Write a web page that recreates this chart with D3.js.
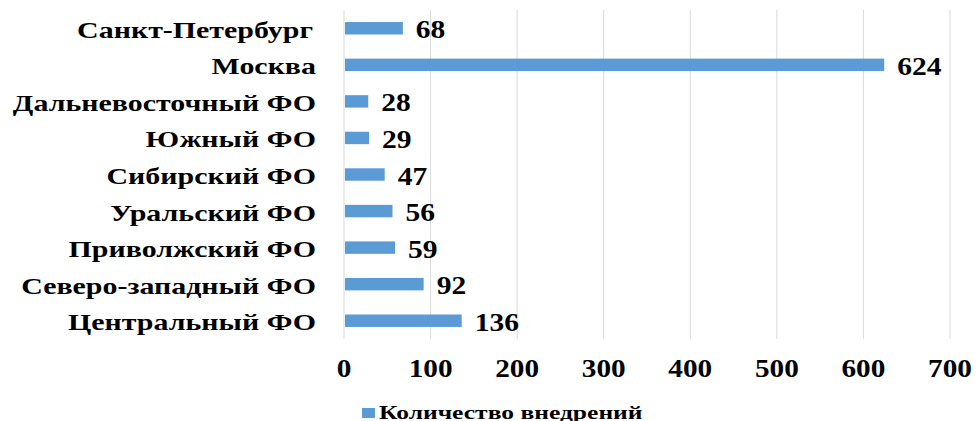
<!DOCTYPE html>
<html>
<head>
<meta charset="utf-8">
<script src="https://cdn.jsdelivr.net/npm/d3@7"></script>
<style>
  body { margin: 0; background: #fff; }
</style>
</head>
<body>
<svg id="chart" width="976" height="421"></svg>
<script>
// data, top to bottom as in the picture
var categories = ["Санкт-Петербург", "Москва", "Дальневосточный ФО", "Южный ФО", "Сибирский ФО",
                  "Уральский ФО", "Приволжский ФО", "Северо-западный ФО", "Центральный ФО"]
var values = [68, 624, 28, 29, 47, 56, 59, 92, 136]
var ticks = [0, 100, 200, 300, 400, 500, 600, 700]
var seriesName = "Количество внедрений"

var svg = d3.select("#chart")
var plotLeft = 344, plotRight = 950, plotTop = 10, plotBottom = 339
var font = "'Liberation Serif', 'Times New Roman', serif"

var x = d3.scaleLinear().domain([0, 700]).range([plotLeft, plotRight])
var y = d3.scaleBand().domain(categories).range([plotTop, plotBottom]).paddingInner(0.66).paddingOuter(0.33)

// the reference text is stretched sideways, so scale it around its anchor
var stretched = function(sel, px, sx, fx, fy){
  return sel
    .attr("x", 0).attr("y", 0)
    .attr("transform", function(d, i){ return "translate(" + fx(d, i) + "," + fy(d, i) + ") scale(" + sx + ",1)" })
    .style("font-family", font)
    .style("font-weight", "bold")
    .style("font-size", px + "px")
    .style("fill", "#000")
}

// gridlines
svg.append("g").selectAll("line")
  .data(ticks)
  .enter()
  .append("line")
  .attr("x1", function(d){ return x(d) })
  .attr("x2", function(d){ return x(d) })
  .attr("y1", plotTop)
  .attr("y2", plotBottom)
  .style("stroke", "#d9d9d9")
  .style("stroke-width", 1)

// bars
svg.append("g").selectAll("rect")
  .data(values)
  .enter()
  .append("rect")
  .attr("x", x(0) + 1)
  .attr("y", function(d, i){ return y(categories[i]) })
  .attr("width", function(d){ return x(d) - x(0) - 1 })
  .attr("height", y.bandwidth())
  .style("fill", "#5b9bd5")

// value labels
stretched(svg.append("g").selectAll("text")
  .data(values)
  .enter()
  .append("text")
  .text(function(d){ return d }), 25, 1.18,
  function(d){ return x(d) + 13 },
  function(d, i){ return y(categories[i]) + y.bandwidth()/2 + 10 })

// category labels (first one sits a little further left in the reference)
stretched(svg.append("g").selectAll("text")
  .data(categories)
  .enter()
  .append("text")
  .text(function(d){ return d })
  .attr("text-anchor", "end"), 22.5, 1.33,
  function(d, i){ return i == 0 ? 313 : 316 },
  function(d){ return y(d) + y.bandwidth()/2 + 9.5 })

// x axis tick labels
stretched(svg.append("g").selectAll("text")
  .data(ticks)
  .enter()
  .append("text")
  .text(function(d){ return d })
  .attr("text-anchor", "middle"), 25, 1.17,
  function(d){ return x(d) },
  function(){ return 377 })

// legend
var legend = svg.append("g")
legend.append("rect")
  .attr("x", 362).attr("y", 408)
  .attr("width", 13).attr("height", 10)
  .style("fill", "#5b9bd5")
stretched(legend.selectAll("text")
  .data([seriesName])
  .enter()
  .append("text")
  .text(function(d){ return d }), 19.5, 1.31,
  function(){ return 379 },
  function(){ return 419 })
</script>
</body>
</html>
